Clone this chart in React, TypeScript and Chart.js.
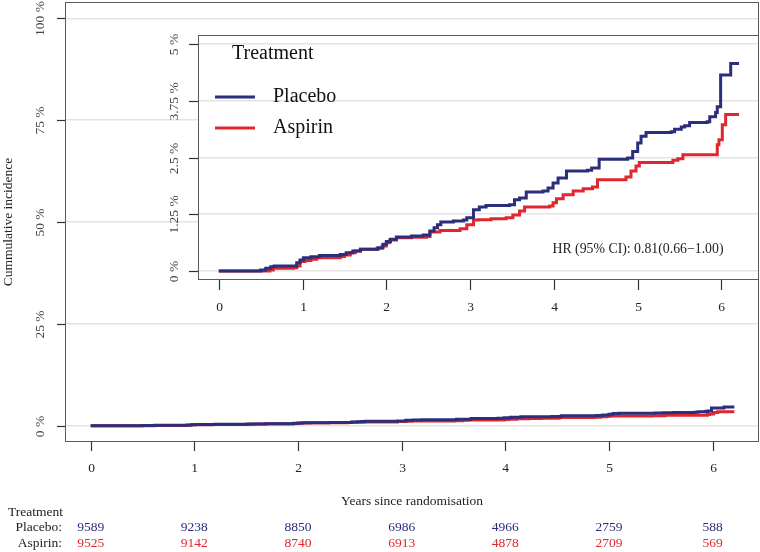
import React, { useEffect, useRef } from 'react';
import { Chart, registerables } from 'chart.js';
Chart.register(...registerables);

const xTicks = [0, 1, 2, 3, 4, 5, 6];
const mainYTicks = [0, 25, 50, 75, 100];
const insetYTicks = [0, 1.25, 2.5, 3.75, 5];
const seriesNames = ['Placebo', 'Aspirin'];

const placeboTime = [0, 0.50, 0.56, 0.62, 0.66, 0.93, 0.97, 1.01, 1.10, 1.20, 1.45, 1.52, 1.60, 1.69, 1.90, 1.96, 2.00, 2.05, 2.12, 2.30, 2.44, 2.52, 2.57, 2.61, 2.65, 2.80, 2.92, 2.96, 3.04, 3.11, 3.19, 3.47, 3.53, 3.59, 3.67, 3.87, 3.93, 3.99, 4.05, 4.15, 4.40, 4.45, 4.54, 4.88, 4.94, 5.00, 5.04, 5.10, 5.40, 5.44, 5.52, 5.56, 5.62, 5.83, 5.86, 5.93, 5.95, 5.99, 6.11, 6.21];
const placeboCum = [0, 0.02, 0.06, 0.09, 0.11, 0.18, 0.24, 0.29, 0.31, 0.34, 0.36, 0.40, 0.44, 0.48, 0.51, 0.59, 0.65, 0.70, 0.75, 0.77, 0.79, 0.88, 0.95, 1.02, 1.08, 1.10, 1.12, 1.17, 1.35, 1.41, 1.44, 1.46, 1.57, 1.61, 1.74, 1.76, 1.83, 1.94, 2.05, 2.20, 2.22, 2.27, 2.46, 2.49, 2.63, 2.82, 2.97, 3.05, 3.07, 3.12, 3.17, 3.20, 3.27, 3.29, 3.40, 3.49, 3.62, 4.32, 4.57, 4.57];

const aspirinTime = [0, 0.61, 0.65, 0.89, 0.93, 0.97, 1.03, 1.10, 1.17, 1.45, 1.50, 1.57, 1.63, 1.69, 1.89, 1.95, 2.00, 2.04, 2.12, 2.30, 2.48, 2.52, 2.64, 2.88, 2.96, 3.04, 3.10, 3.25, 3.43, 3.51, 3.59, 3.65, 3.95, 3.99, 4.03, 4.11, 4.23, 4.35, 4.46, 4.52, 4.86, 4.92, 4.98, 5.02, 5.42, 5.48, 5.54, 5.95, 5.97, 6.01, 6.05, 6.21];
const aspirinCum = [0, 0.02, 0.06, 0.07, 0.11, 0.21, 0.23, 0.26, 0.29, 0.32, 0.35, 0.40, 0.44, 0.48, 0.50, 0.55, 0.62, 0.68, 0.73, 0.74, 0.76, 0.86, 0.89, 0.93, 1.02, 1.12, 1.13, 1.15, 1.17, 1.23, 1.32, 1.41, 1.43, 1.50, 1.59, 1.68, 1.76, 1.81, 1.85, 2.01, 2.07, 2.20, 2.31, 2.39, 2.44, 2.47, 2.56, 2.78, 2.89, 3.22, 3.45, 3.45];

const placeboAtRisk = [9589, 9238, 8850, 6986, 4966, 2759, 588];
const aspirinAtRisk = [9525, 9142, 8740, 6913, 4878, 2709, 569];

const hrLabel = 'HR (95% CI): 0.81(0.66\u22121.00)';
const yTitle = 'Cummulative incidence';
const xTitle = 'Years since randomisation';
const legendTitle = 'Treatment';

const NAVY = '#2b2e7b';
const RED = '#e2262e';
const FONT = '"Liberation Serif", "DejaVu Serif", serif';
const GRID = '#e3e3e3';

const toPoints = (t: number[], v: number[]) => t.map((tt, i) => ({ x: tt, y: v[i] }));

const pct = (v: number) => `${v} %`;

function makeDatasets() {
  return [
    { label: seriesNames[0], data: toPoints(placeboTime, placeboCum), borderColor: NAVY, borderWidth: 3, stepped: true, pointRadius: 0, fill: false },
    { label: seriesNames[1], data: toPoints(aspirinTime, aspirinCum), borderColor: RED, borderWidth: 3, stepped: true, pointRadius: 0, fill: false },
  ];
}

function drawAxes(chart: any, yTicks: number[], yLabelOffset: number, yTickLen: number, xTickLen: number, xLabelOffset: number) {
  const { ctx, chartArea: a, scales } = chart;
  const x = scales.x, y = scales.y;
  ctx.save();
  ctx.strokeStyle = '#5a5a5a';
  ctx.lineWidth = 1;
  ctx.strokeRect(Math.round(a.left) + 0.5, Math.round(a.top) + 0.5, Math.round(a.right - a.left) - 1, Math.round(a.bottom - a.top) - 1);
  ctx.strokeStyle = '#333';
  ctx.lineWidth = 1.2;
  ctx.fillStyle = '#444';
  ctx.font = `13.5px ${FONT}`;
  ctx.textAlign = 'center';
  ctx.textBaseline = 'middle';
  for (const v of yTicks) {
    const py = Math.round(y.getPixelForValue(v)) + 0.5;
    ctx.beginPath();
    ctx.moveTo(a.left - yTickLen, py);
    ctx.lineTo(a.left, py);
    ctx.stroke();
    ctx.save();
    ctx.translate(a.left - yLabelOffset, py);
    ctx.rotate(-Math.PI / 2);
    ctx.fillText(pct(v), 0, 0);
    ctx.restore();
  }
  ctx.fillStyle = '#222';
  for (const v of xTicks) {
    const px = Math.round(x.getPixelForValue(v)) + 0.5;
    ctx.beginPath();
    ctx.moveTo(px, a.bottom);
    ctx.lineTo(px, a.bottom + xTickLen);
    ctx.stroke();
    ctx.fillText(String(v), px, a.bottom + xLabelOffset);
  }
  ctx.restore();
}

const mainPlugin = {
  id: 'mainDecor',
  afterDraw(chart: any) {
    drawAxes(chart, mainYTicks, 25, 8, 9, 26);
    const { ctx, chartArea: a, scales } = chart;
    const x = scales.x;
    ctx.save();
    ctx.fillStyle = '#222';
    ctx.font = `13.5px ${FONT}`;
    ctx.textBaseline = 'middle';
    ctx.textAlign = 'center';
    ctx.fillText(xTitle, (a.left + a.right) / 2, 501);
    ctx.save();
    ctx.translate(8, (a.top + a.bottom) / 2);
    ctx.rotate(-Math.PI / 2);
    ctx.fillText(yTitle, 0, 0);
    ctx.restore();
    ctx.textAlign = 'left';
    ctx.fillText(legendTitle, 8, 512);
    ctx.textAlign = 'right';
    ctx.fillText(seriesNames[0] + ':', 62, 527);
    ctx.fillText(seriesNames[1] + ':', 62, 543);
    ctx.textAlign = 'center';
    xTicks.forEach((v, i) => {
      const px = x.getPixelForValue(v);
      ctx.fillStyle = NAVY;
      ctx.fillText(String(placeboAtRisk[i]), px, 527);
      ctx.fillStyle = RED;
      ctx.fillText(String(aspirinAtRisk[i]), px, 543);
    });
    ctx.restore();
  },
};

const insetPlugin = {
  id: 'insetDecor',
  beforeDraw(chart: any) {
    const { ctx, chartArea: a } = chart;
    ctx.save();
    ctx.fillStyle = '#ffffff';
    ctx.fillRect(a.left, a.top, a.right - a.left, a.bottom - a.top);
    ctx.restore();
  },
  afterDraw(chart: any) {
    drawAxes(chart, insetYTicks, 24, 9, 10, 27);
    const { ctx } = chart;
    ctx.save();
    ctx.fillStyle = '#111';
    ctx.textBaseline = 'middle';
    ctx.textAlign = 'left';
    ctx.font = `20px ${FONT}`;
    ctx.fillText(legendTitle, 232, 54);
    const rows = [
      { name: seriesNames[0], color: NAVY, y: 97 },
      { name: seriesNames[1], color: RED, y: 128 },
    ];
    for (const r of rows) {
      ctx.strokeStyle = r.color;
      ctx.lineWidth = 3;
      ctx.beginPath();
      ctx.moveTo(215, r.y);
      ctx.lineTo(255, r.y);
      ctx.stroke();
      ctx.fillText(r.name, 273, r.y);
    }
    ctx.font = `13.8px ${FONT}`;
    ctx.textAlign = 'center';
    ctx.fillStyle = '#222';
    ctx.fillText(hrLabel, 638, 249);
    ctx.restore();
  },
};

function baseOptions(padding: any, ymin: number, ymax: number, yTicks: number[]) {
  return {
    animation: false,
    responsive: false,
    devicePixelRatio: 1,
    layout: { padding },
    plugins: { legend: { display: false }, tooltip: { enabled: false } },
    elements: { point: { radius: 0 } },
    scales: {
      x: {
        type: 'linear',
        min: -0.248,
        max: 6.448,
        grid: { display: false, drawTicks: false, tickLength: 0 },
        ticks: { display: false, padding: 0 },
        border: { display: false },
        afterBuildTicks: (s: any) => { s.ticks = xTicks.map((v) => ({ value: v })); },
      },
      y: {
        type: 'linear',
        min: ymin,
        max: ymax,
        grid: { color: GRID, lineWidth: 1.5, drawTicks: false, tickLength: 0 },
        ticks: { display: false, padding: 0 },
        border: { display: false },
        afterBuildTicks: (s: any) => { s.ticks = yTicks.map((v) => ({ value: v })); },
      },
    },
  } as any;
}

export default function App() {
  const mainRef = useRef<HTMLCanvasElement>(null);
  const insetRef = useRef<HTMLCanvasElement>(null);

  useEffect(() => {
    const main = new Chart(mainRef.current as HTMLCanvasElement, {
      type: 'line',
      data: { datasets: makeDatasets() as any },
      options: baseOptions({ left: 65, top: 2, right: 1, bottom: 110 }, -4, 104, mainYTicks),
      plugins: [mainPlugin],
    });
    const inset = new Chart(insetRef.current as HTMLCanvasElement, {
      type: 'line',
      data: { datasets: makeDatasets() as any },
      options: baseOptions({ left: 198, top: 35, right: 1, bottom: 272 }, -0.2, 5.2, insetYTicks),
      plugins: [insetPlugin],
    });
    return () => {
      main.destroy();
      inset.destroy();
    };
  }, []);

  const cs: React.CSSProperties = { position: 'absolute', left: 0, top: 0, width: 760, height: 552 };
  return (
    <div style={{ position: 'fixed', left: 0, top: 0, width: 760, height: 552, background: '#fff' }}>
      <canvas ref={mainRef} width={760} height={552} style={cs} />
      <canvas ref={insetRef} width={760} height={552} style={cs} />
    </div>
  );
}
